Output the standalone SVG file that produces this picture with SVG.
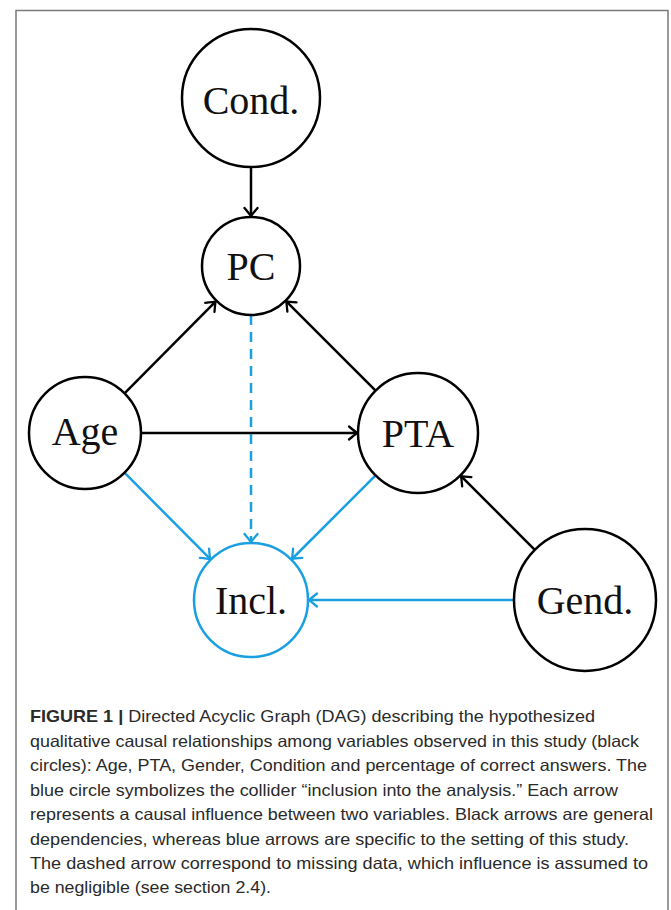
<svg xmlns="http://www.w3.org/2000/svg" width="671" height="910" viewBox="0 0 671 910">
<style>
.node{fill:#fff;stroke:#000;stroke-width:2.5}
.blue{stroke:#1aa0e0}
.lbl{font-family:"Liberation Serif","DejaVu Serif",serif;font-size:40px;fill:#111;text-anchor:middle}
.edge{fill:none;stroke:#000;stroke-width:2.5}
.eb{fill:none;stroke:#1aa0e0;stroke-width:2.5}
.cap{font-family:"Liberation Sans","Noto Sans",sans-serif;font-size:16.5px;fill:#2a2a2a}
</style>
<defs>
<marker id="ak" markerUnits="userSpaceOnUse" viewBox="-10 -8 12 16" refX="0" refY="0" markerWidth="12" markerHeight="16" orient="auto" overflow="visible">
<path d="M-8,-6.5 Q-2,-1.5 0,0 Q-2,1.5 -8,6.5" fill="none" stroke="#000" stroke-width="2.3" stroke-linecap="round"/>
</marker>
<marker id="ab" markerUnits="userSpaceOnUse" viewBox="-10 -8 12 16" refX="0" refY="0" markerWidth="12" markerHeight="16" orient="auto" overflow="visible">
<path d="M-8,-6.5 Q-2,-1.5 0,0 Q-2,1.5 -8,6.5" fill="none" stroke="#1aa0e0" stroke-width="2.3" stroke-linecap="round"/>
</marker>
</defs>
<rect x="0" y="0" width="671" height="910" fill="#fff"/>
<path d="M16,912 V10.5 H668 V912" fill="none" stroke="#7a7a7a" stroke-width="1.5"/>
<g id="connectors">
<line class="edge" x1="251" y1="167" x2="251" y2="216" marker-end="url(#ak)"/>
<line class="edge" x1="124.5" y1="393.3" x2="215.5" y2="301.7" marker-end="url(#ak)"/>
<line class="edge" x1="375.6" y1="390.6" x2="286.3" y2="301.3" marker-end="url(#ak)"/>
<line class="edge" x1="141" y1="433" x2="357" y2="433" marker-end="url(#ak)"/>
<line class="edge" x1="534.8" y1="549.8" x2="461.1" y2="476.1" marker-end="url(#ak)"/>
<line class="eb" x1="124.5" y1="472.7" x2="210.1" y2="558.9" marker-end="url(#ab)"/>
<line class="eb" x1="375.6" y1="475.4" x2="292" y2="559" marker-end="url(#ab)"/>
<line class="eb" x1="251" y1="315" x2="251" y2="542" stroke-dasharray="10 7" marker-end="url(#ab)"/>
<line class="eb" x1="514" y1="600" x2="309" y2="600" marker-end="url(#ab)"/>
</g>
<g id="node-cond"><circle class="node" cx="251" cy="98" r="69"/><text class="lbl" x="251" y="114">Cond.</text></g>
<g id="node-pc"><circle class="node" cx="251" cy="266" r="49"/><text class="lbl" x="251" y="280">PC</text></g>
<g id="node-age"><circle class="node" cx="85" cy="433" r="56"/><text class="lbl" x="85" y="445">Age</text></g>
<g id="node-pta"><circle class="node" cx="418" cy="433" r="60"/><text class="lbl" x="418" y="447">PTA</text></g>
<g id="node-incl"><circle class="node blue" cx="251" cy="600" r="57"/><text class="lbl" x="251" y="614">Incl.</text></g>
<g id="node-gend"><circle class="node" cx="585" cy="600" r="71"/><text class="lbl" x="585" y="614">Gend.</text></g>
<g id="caption">
<text class="cap" x="30" y="722" textLength="565" lengthAdjust="spacingAndGlyphs"><tspan font-weight="bold">FIGURE 1 |</tspan> Directed Acyclic Graph (DAG) describing the hypothesized</text>
<text class="cap" x="30" y="746.5" textLength="609" lengthAdjust="spacingAndGlyphs">qualitative causal relationships among variables observed in this study (black</text>
<text class="cap" x="30" y="771" textLength="617" lengthAdjust="spacingAndGlyphs">circles): Age, PTA, Gender, Condition and percentage of correct answers. The</text>
<text class="cap" x="30" y="795.5" textLength="588" lengthAdjust="spacingAndGlyphs">blue circle symbolizes the collider “inclusion into the analysis.” Each arrow</text>
<text class="cap" x="30" y="820" textLength="623" lengthAdjust="spacingAndGlyphs">represents a causal influence between two variables. Black arrows are general</text>
<text class="cap" x="30" y="844.5" textLength="599" lengthAdjust="spacingAndGlyphs">dependencies, whereas blue arrows are specific to the setting of this study.</text>
<text class="cap" x="30" y="869" textLength="618" lengthAdjust="spacingAndGlyphs">The dashed arrow correspond to missing data, which influence is assumed to</text>
<text class="cap" x="30" y="893" textLength="241" lengthAdjust="spacingAndGlyphs">be negligible (see section 2.4).</text>
</g>
</svg>
